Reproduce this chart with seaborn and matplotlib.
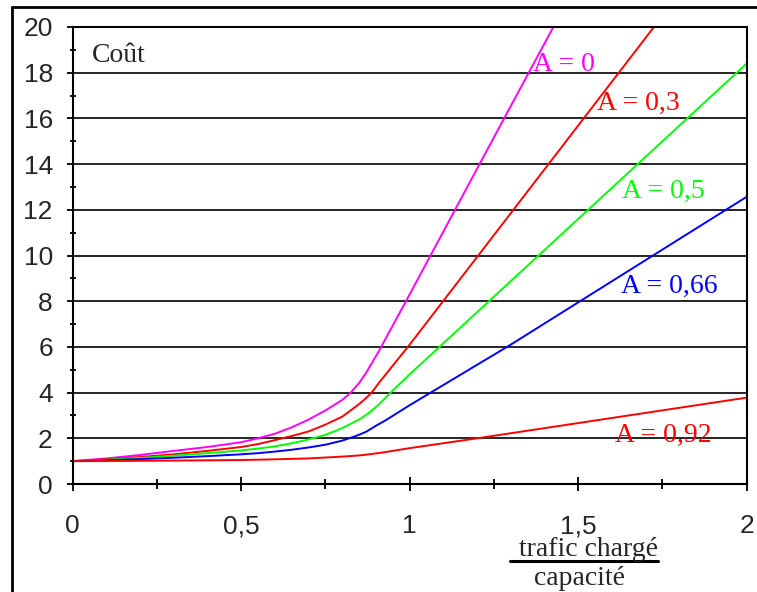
import pandas as pd
import seaborn as sns
import matplotlib.pyplot as plt
from matplotlib.lines import Line2D
from matplotlib.ticker import MultipleLocator, FixedLocator, FixedFormatter

# courbes (x = trafic chargé / capacité, y = coût)
x_a0 = [0, 0.1, 0.2, 0.3, 0.4, 0.5, 0.55, 0.6, 0.65, 0.7, 0.75, 0.8, 0.825, 0.85, 0.87, 0.89,
        0.91, 0.93, 1.0, 1.2, 1.43]
y_a0 = [1.0, 1.12, 1.27, 1.45, 1.62, 1.83, 2.0, 2.2, 2.48, 2.82, 3.22, 3.68, 4.0, 4.42, 4.85, 5.35,
        5.85, 6.4, 8.3, 13.8, 20.1]

x_a03 = [0, 0.1, 0.2, 0.3, 0.4, 0.5, 0.55, 0.6, 0.65, 0.7, 0.75, 0.8, 0.825, 0.85, 0.87, 0.89,
         0.91, 1.0, 1.3, 1.73]
y_a03 = [1.0, 1.08, 1.18, 1.3, 1.45, 1.62, 1.75, 1.92, 2.1, 2.3, 2.6, 2.95, 3.22, 3.5, 3.75, 4.05,
         4.45, 6.1, 11.85, 20.1]

x_a05 = [0, 0.1, 0.2, 0.3, 0.4, 0.5, 0.55, 0.6, 0.65, 0.7, 0.75, 0.8, 0.85, 0.88, 0.91, 0.94,
         1.0, 2.0]
y_a05 = [1.0, 1.06, 1.14, 1.24, 1.35, 1.47, 1.55, 1.65, 1.78, 1.95, 2.15, 2.45, 2.82, 3.12, 3.5, 3.95,
         4.8, 18.4]

x_a066 = [0, 0.1, 0.2, 0.3, 0.4, 0.5, 0.55, 0.6, 0.65, 0.7, 0.75, 0.8, 0.84, 0.87, 0.9, 0.93,
          1.0, 1.3, 2.0]
y_a066 = [1.0, 1.04, 1.09, 1.15, 1.22, 1.3, 1.35, 1.42, 1.5, 1.6, 1.72, 1.9, 2.1, 2.28, 2.55, 2.8,
          3.45, 6.1, 12.57]

x_a092 = [0, 0.25, 0.5, 0.6, 0.7, 0.8, 0.85, 0.88, 0.92, 1.0, 1.2, 2.0]
y_a092 = [1.0, 1.02, 1.05, 1.08, 1.12, 1.2, 1.25, 1.3, 1.38, 1.57, 2.0, 3.78]

courbes = ['A = 0', 'A = 0,3', 'A = 0,5', 'A = 0,66', 'A = 0,92']
couleurs = ['#FF00FF', '#FF0000', '#00FF00', '#0000FF', '#FF0000']

x_ticks = [0, 0.5, 1, 1.5, 2]
x_tick_labels = ['0', '0,5', '1', '1,5', '2']
y_ticks = [0, 2, 4, 6, 8, 10, 12, 14, 16, 18, 20]

# données au format long pour seaborn
frames = []
for nom, xs, ys in zip(courbes, [x_a0, x_a03, x_a05, x_a066, x_a092],
                       [y_a0, y_a03, y_a05, y_a066, y_a092]):
    frames.append(pd.DataFrame({'x': xs, 'y': ys, 'A': nom}))
data = pd.concat(frames, ignore_index=True)

sns.set_style('white')
plt.rcParams['font.family'] = ['Liberation Sans', 'DejaVu Sans']

fig = plt.figure(figsize=(7.57, 5.92), dpi=100)
ax = fig.add_axes([0.096, 0.1824, 0.8904, 0.772])

sns.lineplot(data=data, x='x', y='y', hue='A', palette=dict(zip(courbes, couleurs)),
             sort=False, estimator=None, legend=False, linewidth=1.4, ax=ax)

ax.set_xlim(0, 2)
ax.set_ylim(0, 20)
ax.set_xlabel('')
ax.set_ylabel('')

# grille horizontale noire
ax.yaxis.grid(True, color='black', linewidth=1.2)
ax.xaxis.grid(False)
ax.set_axisbelow(True)

for s in ax.spines.values():
    s.set_visible(True)
    s.set_color('black')
    s.set_linewidth(1.5)

ax.xaxis.set_major_locator(FixedLocator(x_ticks))
ax.xaxis.set_major_formatter(FixedFormatter(x_tick_labels))
ax.xaxis.set_minor_locator(MultipleLocator(0.25))
ax.yaxis.set_major_locator(FixedLocator(y_ticks))
ax.yaxis.set_minor_locator(MultipleLocator(1))

ax.tick_params(axis='x', which='major', direction='inout', length=9.5, width=1.3,
               color='black', labelsize=19, pad=17, bottom=True)
ax.tick_params(axis='x', which='minor', direction='inout', length=6.5, width=1.3,
               color='black', bottom=True)
ax.tick_params(axis='y', which='major', direction='out', length=4.3, width=1.3,
               color='black', labelsize=19, pad=10, left=True)
ax.tick_params(axis='y', which='minor', direction='inout', length=4.8, width=1.3,
               color='black', left=True)

serif = ['Liberation Serif', 'DejaVu Serif']
ax.text(0.056, 18.48, 'Coût', family=serif, fontsize=20, va='baseline')

# étiquettes des courbes
etiquettes_x = [1.367, 1.555, 1.629, 1.626, 1.609]
etiquettes_y = [18.07, 16.37, 12.53, 8.35, 1.85]
for nom, c, tx, ty in zip(courbes, couleurs, etiquettes_x, etiquettes_y):
    ax.text(tx, ty, nom, color=c, family=serif, fontsize=20, va='baseline')

# titre de l'axe x en fraction
fig.text(0.778, 0.0608, 'trafic chargé', family=serif, fontsize=20,
         ha='center', va='baseline')
fig.text(0.766, 0.0118, 'capacité', family=serif, fontsize=20,
         ha='center', va='baseline')
fig.add_artist(Line2D([510 / 757, 658 / 757], [1 - 560.7 / 592] * 2,
                      color='black', linewidth=2.2, transform=fig.transFigure))

# cadre extérieur (gauche et haut)
fig.add_artist(Line2D([0.0159, 0.0159], [0, 0.988], color='black',
                      linewidth=2, transform=fig.transFigure))
fig.add_artist(Line2D([0.0159, 1], [0.988, 0.988], color='black',
                      linewidth=2, transform=fig.transFigure))

fig.savefig('out.png', dpi=100)
